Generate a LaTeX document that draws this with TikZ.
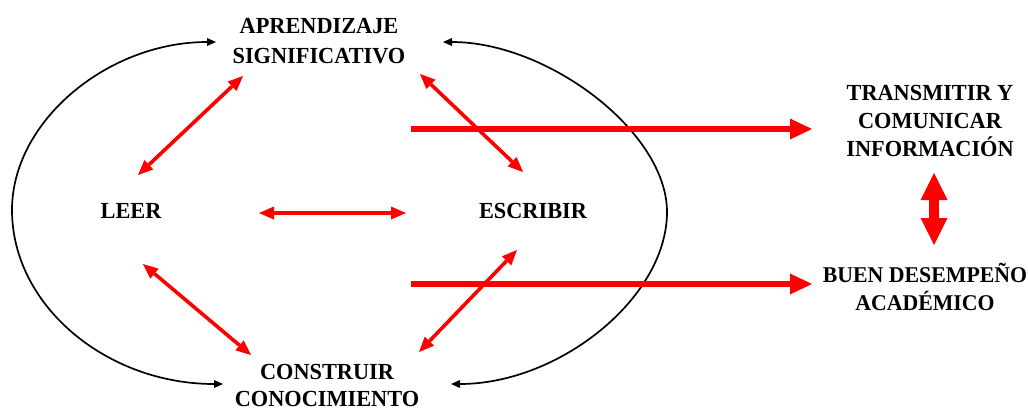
\documentclass[tikz,border=0pt]{standalone}
\usepackage{fontspec}
\setmainfont{Liberation Serif}[FakeStretch=0.97]
\usetikzlibrary{arrows.meta}
\begin{document}
\begin{tikzpicture}[x=1pt,y=-1pt,
  lbl/.style={font=\fontsize{23}{30}\selectfont\bfseries, align=center, inner sep=0pt, anchor=base},
  lbls/.style={lbl, font=\fontsize{23}{28}\selectfont\bfseries},
  blk/.style={draw=black, line width=1.7pt, {Triangle[length=9pt,width=8pt,line width=0pt]}-{Triangle[length=9pt,width=8pt,line width=0pt]}},
  rarr/.style={draw=red, line width=3.6pt, {Triangle[length=15pt,width=13pt,line width=0pt]}-{Triangle[length=15pt,width=13pt,line width=0pt]}},
  bigarr/.style={draw=red, line width=6.5pt, -{Triangle[length=22pt,width=21pt,line width=0pt]}},
  vdbl/.style={draw=red, line width=10pt, {Triangle[length=27pt,width=27pt,line width=0pt]}-{Triangle[length=27pt,width=27pt,line width=0pt]}}
]
\useasboundingbox (0,0) rectangle (1028,408);
% text nodes (anchor = baseline of the last line)
\node[lbl] (apr) at (319,63) {APRENDIZAJE\\SIGNIFICATIVO};
\node[lbl] (leer) at (131,218) {LEER};
\node[lbl] (esc) at (533,218) {ESCRIBIR};
\node[lbls, font=\fontsize{23}{27}\selectfont\bfseries] (con) at (327,406) {CONSTRUIR\\CONOCIMIENTO};
\node[lbls] (tra) at (930,156) {TRANSMITIR Y\\COMUNICAR\\INFORMACIÓN};
\node[lbls, font=\fontsize{22.5}{28}\selectfont\bfseries] (bue) at (925,310) {BUEN DESEMPEÑO\\ACADÉMICO};
% connector end points
\coordinate (ltop) at (216,42);
\coordinate (lbot) at (223,384);
\coordinate (rtop) at (443,42);
\coordinate (rbot) at (451,384);
\coordinate (aprL) at (243,76);
\coordinate (leerU) at (138,175);
\coordinate (aprR) at (420,74);
\coordinate (escU) at (523,172);
\coordinate (leerR) at (259,213);
\coordinate (escL) at (406,213);
\coordinate (leerD) at (143,264);
\coordinate (conL) at (251,355);
\coordinate (escD) at (517,250);
\coordinate (conR) at (419,352);
\coordinate (s1) at (411,129);
\coordinate (traL) at (812,129);
\coordinate (s2) at (411,284);
\coordinate (bueL) at (812,284);
\coordinate (traD) at (934,173);
\coordinate (bueU) at (934,245);
% black arcs
\draw[blk] (ltop) .. controls (108,42) and (12,121) .. (12,210) .. controls (12,306) and (107,384) .. (lbot);
\draw[blk] (rtop) .. controls (548,42) and (667,132) .. (667,212) .. controls (667,298) and (559,384) .. (rbot);
% red arrows
\draw[rarr] (aprL) -- (leerU);
\draw[rarr] (aprR) -- (escU);
\draw[rarr] (leerR) -- (escL);
\draw[rarr] (leerD) -- (conL);
\draw[rarr] (escD) -- (conR);
\draw[bigarr] (s1) -- (traL);
\draw[bigarr] (s2) -- (bueL);
\draw[vdbl] (traD) -- (bueU);
\end{tikzpicture}
\end{document}
